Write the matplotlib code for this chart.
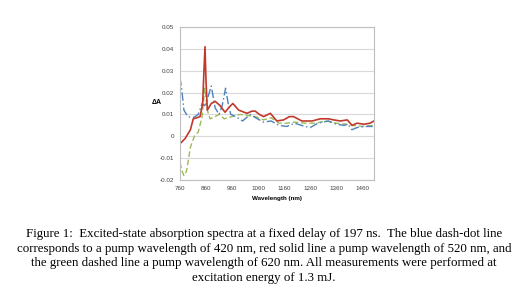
import matplotlib
matplotlib.use("Agg")
import matplotlib.pyplot as plt

# Data
red_x = [760, 780, 800, 811, 825, 837, 847, 852, 856, 860, 865, 880, 895, 914, 933, 950, 963, 985, 1017, 1036, 1049, 1065, 1081, 1107, 1132, 1158, 1180, 1196, 1228, 1267, 1299, 1330, 1350, 1376, 1402, 1421, 1440, 1466, 1490, 1505]
red_y = [-0.0034, -0.001, 0.003, 0.008, 0.0085, 0.009, 0.015, 0.030, 0.041, 0.025, 0.012, 0.015, 0.016, 0.014, 0.011, 0.0135, 0.015, 0.012, 0.0105, 0.0115, 0.0115, 0.010, 0.009, 0.0105, 0.007, 0.0075, 0.009, 0.009, 0.007, 0.007, 0.008, 0.008, 0.0075, 0.007, 0.0075, 0.005, 0.006, 0.0055, 0.006, 0.007]

blue_x = [760, 768, 775, 790, 810, 830, 845, 855, 865, 880, 895, 910, 922, 935, 945, 955, 975, 1000, 1030, 1050, 1080, 1110, 1140, 1170, 1200, 1240, 1260, 1290, 1330, 1360, 1390, 1405, 1420, 1440, 1470, 1500]
blue_y = [0.027, 0.020, 0.012, 0.009, 0.0085, 0.010, 0.015, 0.014, 0.017, 0.023, 0.013, 0.010, 0.014, 0.022, 0.015, 0.010, 0.009, 0.007, 0.010, 0.0085, 0.0065, 0.007, 0.005, 0.0045, 0.006, 0.0045, 0.004, 0.006, 0.007, 0.0055, 0.005, 0.0055, 0.003, 0.004, 0.0045, 0.0045]

green_x = [760, 768, 775, 785, 800, 815, 830, 845, 855, 865, 875, 895, 910, 930, 960, 990, 1020, 1050, 1080, 1110, 1140, 1170, 1200, 1240, 1280, 1320, 1360, 1400, 1420, 1460, 1500]
green_y = [-0.012, -0.016, -0.018, -0.016, -0.005, 0.0, 0.002, 0.009, 0.022, 0.012, 0.008, 0.009, 0.010, 0.008, 0.009, 0.010, 0.0095, 0.009, 0.0075, 0.0085, 0.006, 0.006, 0.0065, 0.006, 0.006, 0.007, 0.006, 0.0055, 0.005, 0.0045, 0.005]

x_ticks = [760, 860, 960, 1060, 1160, 1260, 1360, 1460]
y_ticks = [-0.02, -0.01, 0, 0.01, 0.02, 0.03, 0.04, 0.05]
y_labels = ["-0.02", "-0.01", "0", "0.01", "0.02", "0.03", "0.04", "0.05"]

caption = ("Figure 1:  Excited-state absorption spectra at a fixed delay of 197 ns.  The blue dash-dot line\n"
           "corresponds to a pump wavelength of 420 nm, red solid line a pump wavelength of 520 nm, and\n"
           "the green dashed line a pump wavelength of 620 nm. All measurements were performed at\n"
           "excitation energy of 1.3 mJ.")

fig = plt.figure(figsize=(5.28, 2.93), dpi=100)
fig.patch.set_facecolor("white")
ax = fig.add_axes([180/528, 1-180/293, 194/528, 153/293])

ax.plot(green_x, green_y, color="#9bbb59", lw=1.0, ls=(0, (4, 2)))
ax.plot(blue_x, blue_y, color="#4f81bd", lw=1.0, ls=(0, (6, 2, 1, 2)))
ax.plot(red_x, red_y, color="#c0392b", lw=1.2)

ax.set_xlim(760, 1505)
ax.set_ylim(-0.02, 0.05)
ax.set_xticks(x_ticks)
ax.set_yticks(y_ticks)
ax.set_yticklabels(y_labels)
ax.grid(axis="y", color="#d9d9d9", lw=0.8)
ax.set_axisbelow(True)
for s in ax.spines.values():
    s.set_color("#bfbfbf")
    s.set_linewidth(0.8)
ax.tick_params(labelsize=4.5, length=0, pad=4, colors="#404040")
for lab in ax.get_xticklabels() + ax.get_yticklabels():
    lab.set_family("Liberation Sans")

ax.set_xlabel("Wavelength (nm)", fontsize=4.5, fontweight="bold", family="Liberation Sans", labelpad=4)
fig.text(157/528, 1-103/293, "ΔA", fontsize=5, fontweight="bold", family="Liberation Sans",
         ha="center", va="center")

fig.text(0.5, 1-256/293, caption, ha="center", va="center", family="Liberation Serif",
         fontsize=9.25, linespacing=1.27)

fig.savefig("out.png", dpi=100)
